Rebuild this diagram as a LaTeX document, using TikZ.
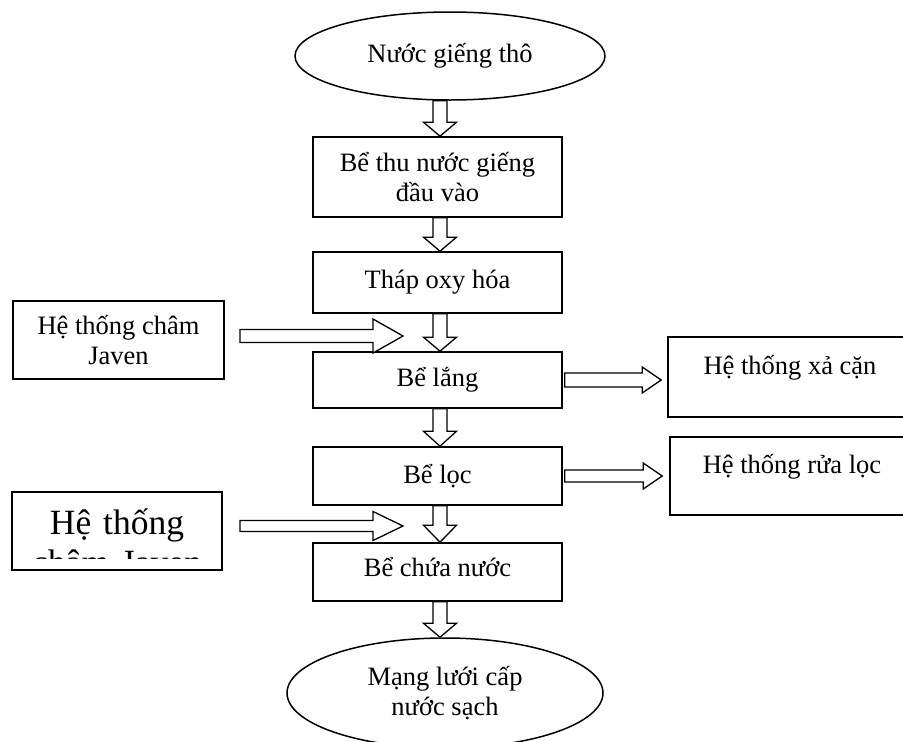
\documentclass[tikz,border=0pt]{standalone}
\usepackage{fontspec}
\setmainfont{Liberation Serif}
\usetikzlibrary{shapes.geometric,calc}

\newcommand\mainsize{\fontsize{26.5pt}{30.5pt}\selectfont}
\newcommand\bigsize{\fontsize{35.5pt}{40pt}\selectfont}

\tikzset{
  flowbox/.style={draw, line width=1.6pt, rectangle, inner sep=0pt,
    align=center, font=\mainsize},
  flowoval/.style={draw, line width=1.5pt, ellipse, inner sep=0pt,
    align=center, font=\mainsize},
  hollow/.style={draw, line width=1.3pt, fill=white, line join=miter},
}

% hollow block arrow from #1 to #2: shaft width #3, head width #4, head length #5
\newcommand\blockarrow[5]{%
  \draw[hollow] let \p1=(#1), \p2=(#2),
      \n1={atan2(\y2-\y1,\x2-\x1)}, \n2={veclen(\x2-\x1,\y2-\y1)} in
    [shift={(\p1)}, rotate=\n1]
    (0pt,{#3/2}) -- ({\n2-#5},{#3/2}) -- ({\n2-#5},{#4/2}) -- ({\n2+0pt},0pt)
    -- ({\n2-#5},{-#4/2}) -- ({\n2-#5},{-#3/2}) -- (0pt,{-#3/2}) -- cycle;}

\begin{document}
\begin{tikzpicture}[x=1pt, y=-1pt]
  \clip (0,0) rectangle (903,742);
  \fill[white] (0,0) rectangle (903,742);

  % main column
  \node[flowoval, minimum width=310, minimum height=88] (e1) at (450,56) {Nước giếng thô};
  \node[flowbox, minimum width=249, minimum height=80] (b1) at (437.5,177) {Bể thu nước giếng\\đầu vào};
  \node[flowbox, minimum width=249, minimum height=61] (b2) at (437.5,282.5) {Tháp oxy hóa};
  \node[flowbox, minimum width=249, minimum height=56] (b3) at (437.5,380) {Bể lắng};
  \node[flowbox, minimum width=249, minimum height=58] (b4) at (437.5,476) {Bể lọc};
  \node[flowbox, minimum width=249, minimum height=58, text depth=10pt] (b5) at (437.5,572) {Bể chứa nước};
  \node[flowoval, minimum width=316, minimum height=110] (e2) at (445,693) {Mạng lưới cấp\\nước sạch};

  % side inputs
  \node[flowbox, minimum width=211, minimum height=78] (j1) at (118.5,340) {Hệ thống châm\\Javen};
  \node[flowbox, minimum width=210, minimum height=78] (j2) at (117,531) {};
  \begin{scope}
    \clip (j2.north west) rectangle ($(j2.south east)+(0,-12)$);
    \node[font=\bigsize, text width=210, align=center, anchor=base, inner sep=0pt]
      (j2text) at (117,534) {Hệ thống\\châm Javen};
  \end{scope}

  % side outputs
  \node[flowbox, minimum width=244, minimum height=80, text depth=24pt] (r1) at (790,377) {Hệ thống xả cặn};
  \node[flowbox, minimum width=244, minimum height=78, text depth=24pt] (r2) at (792,476) {Hệ thống rửa lọc};

  % column arrows
  \coordinate (ax) at (440,0);
  \blockarrow{e1.south -| ax}{b1.north -| ax}{14}{33}{14}
  \blockarrow{b1.south -| ax}{b2.north -| ax}{14}{33}{14}
  \blockarrow{b2.south -| ax}{b3.north -| ax}{14}{33}{14}
  \blockarrow{b3.south -| ax}{b4.north -| ax}{14}{33}{15}
  \blockarrow{b4.south -| ax}{b5.north -| ax}{14}{33}{17}
  \blockarrow{b5.south -| ax}{e2.north -| ax}{14}{33}{14}

  % dosing arrows
  \coordinate (h1s) at (240,336);
  \coordinate (h1e) at (403,336);
  \coordinate (h2s) at (240,526);
  \coordinate (h2e) at (403,526);
  \blockarrow{h1s}{h1e}{13}{34}{30}
  \blockarrow{h2s}{h2e}{11}{29}{30}

  % outlet arrows
  \blockarrow{$(b3.east)+(2,0)$}{$(b3.east -| r1.west)+(-6,0)$}{14}{26}{19}
  \blockarrow{$(b4.east)+(2,0)$}{$(b4.east -| r2.west)+(-7,0)$}{12}{26}{19}
\end{tikzpicture}
\end{document}
